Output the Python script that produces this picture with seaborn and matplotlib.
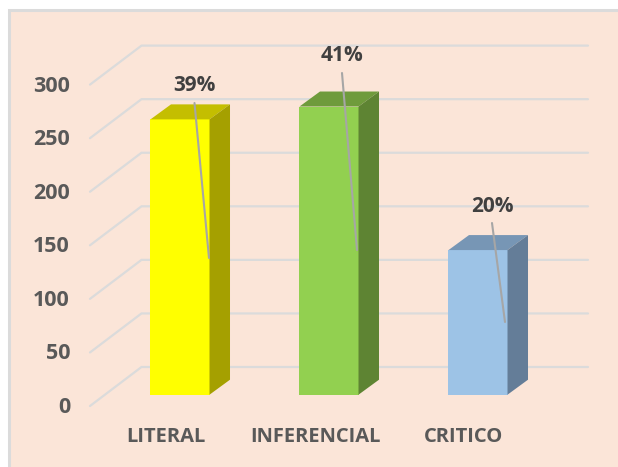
import seaborn as sns
import matplotlib.pyplot as plt
import pandas as pd
from matplotlib.patches import Rectangle

categories = ["LITERAL", "INFERENCIAL", "CRITICO"]
values = [257, 269, 135]
percent_labels = ["39%", "41%", "20%"]
tick_values = [0, 50, 100, 150, 200, 250, 300]

front_colors = ["#FFFF00", "#92D050", "#9DC3E6"]
top_colors = ["#C4BE00", "#6F9B3C", "#7796B5"]
side_colors = ["#A5A000", "#5E8433", "#647D98"]

W, H = 618, 467
bg = "#FBE5D8"
grid_color = "#DBDBDB"

sns.set_theme(style="white")
plt.rcParams["font.family"] = ["Open Sans", "DejaVu Sans"]
fig = plt.figure(figsize=(W / 100, H / 100), dpi=100, facecolor="white")

# panel with a grey edge, the picture is cropped on the right and at the bottom
fig.patches.append(Rectangle((8.5 / W, -0.01), 1.0, 1 - 10 / H + 0.01, transform=fig.transFigure,
                             facecolor=bg, edgecolor=grid_color, linewidth=2.2, zorder=-1))

ax = fig.add_axes([0, 0, 1, 1])
ax.patch.set_alpha(0)

# scales worked out from the picture: 149 px per category, 1.0713 px per unit
px_x = 149.0
px_y = 1.0713
bar0_center = 180.0
base_y = 394.7

df = pd.DataFrame({"cat": categories, "val": values})
sns.barplot(data=df, x="cat", y="val", hue="cat", palette=front_colors, legend=False,
            width=0.396, saturation=1, linewidth=0, ax=ax, zorder=3)
ax.set_xlim(-bar0_center / px_x, (W - bar0_center) / px_x)
ax.set_ylim(-(H - base_y) / px_y, base_y / px_y)
ax.axis("off")

# 3d look: depth of the bars
dx = 20.5 / px_x
dy = 15 / px_y
for patch, tc, sc in zip(list(ax.patches), top_colors, side_colors):
    x0 = patch.get_x()
    x1 = x0 + patch.get_width()
    top = patch.get_height()
    ax.fill([x0, x1, x1 + dx, x0 + dx], [top, top, top + dy, top + dy], color=tc, lw=0, zorder=3)
    ax.fill([x1, x1 + dx, x1 + dx, x1], [0, dy, top + dy, top], color=sc, lw=0, zorder=3)

# gridlines, floor edge to back wall then across
front_x = (90 - bar0_center) / px_x
back_x = (141.5 - bar0_center) / px_x
right_x = (588 - bar0_center) / px_x
front_shift = (base_y - 406) / px_y
back_shift = (base_y - 367) / px_y
for v in tick_values:
    ax.plot([front_x, back_x, right_x], [v + front_shift, v + back_shift, v + back_shift],
            color=grid_color, lw=1.6, zorder=1, solid_joinstyle="miter")
    ax.text((70 - bar0_center) / px_x, v + front_shift - 1.5 / px_y, str(v), ha="right", va="center",
            fontsize=15.5, fontweight="bold", color="#595959")

for i, name in enumerate(categories):
    ax.text(i - 14 / px_x, -(437 - base_y) / px_y, name, ha="center", va="center",
            fontsize=14.5, fontweight="bold", color="#595959")

# percent labels with their leader lines
label_x = [194, 342, 492]
label_y = [85.5, 55.5, 206.5]
leader_start = [(194.5, 103), (342, 73), (492, 223)]
leader_end = [(209, 258), (357, 250), (505, 322)]
for lab, lx, ly, s, e in zip(percent_labels, label_x, label_y, leader_start, leader_end):
    ax.plot([(s[0] - bar0_center) / px_x, (e[0] - bar0_center) / px_x],
            [(base_y - s[1]) / px_y, (base_y - e[1]) / px_y], color="#A6A6A6", lw=1.5, zorder=4)
    ax.text((lx - bar0_center) / px_x, (base_y - ly) / px_y, lab, ha="center", va="center",
            fontsize=15, fontweight="bold", color="#404040", zorder=5)

fig.savefig("out.png", dpi=100)
